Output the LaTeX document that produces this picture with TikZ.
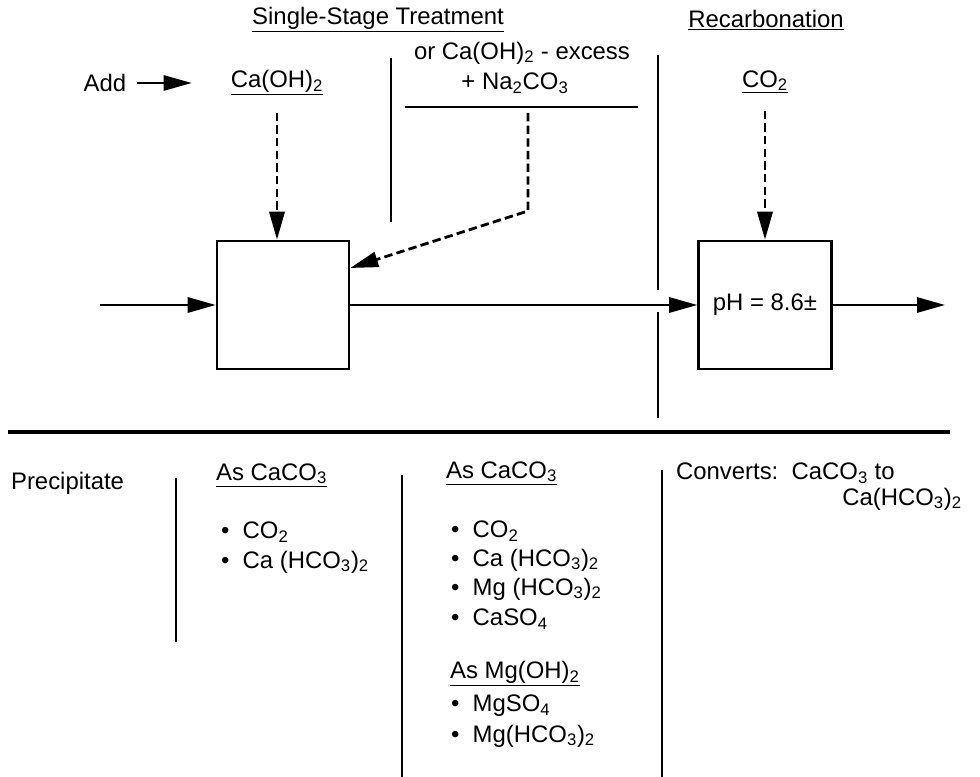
\documentclass[tikz,border=0pt]{standalone}
\usepackage{fontspec}
\setmainfont{Liberation Sans}
\usepackage{tikz}
\usetikzlibrary{positioning, arrows.meta, calc}
\newcommand{\chemsub}[1]{\textsubscript{#1}}

\begin{document}
\begin{tikzpicture}[
    every node/.style={font=\fontsize{17}{20}\selectfont, inner sep=2pt},
    unitbox/.style={draw, line width=1.8pt, minimum width=3.3cm, minimum height=3.2cm},
    flow/.style={line width=1.7pt, -{Triangle[length=7mm, width=3.8mm]}},
    feed/.style={line width=2pt, dash pattern=on 6pt off 3pt, -{Triangle[length=7mm, width=3.8mm]}},
    rule/.style={line width=1.8pt},
    item/.style={anchor=west}
]
\useasboundingbox (0,0) rectangle (24.5,19.425);

% === HEADINGS ===
\node (stage) at (9.45, 18.925) {\underline{Single-Stage Treatment}};
\node (recarb) at (19.15, 18.925) {\underline{Recarbonation}};

% === CHEMICALS ADDED ===
\node (add) at (2.625, 17.35) {Add};
\node (lime) at (6.925, 17.35) {\underline{Ca(OH)\chemsub{2}}};
\node (excess) at (13.05, 18.1) {or Ca(OH)\chemsub{2} - excess};
\node (soda) at (12.875, 17.35) {+ Na\chemsub{2}CO\chemsub{3}};
\node (co2) at (19.125, 17.375) {\underline{CO\chemsub{2}}};
\draw[rule] (10.125, 16.75) -- (15.95, 16.75);
\draw[flow, line width=1.4pt, shorten <=2mm, shorten >=9mm] (add.east) -- (lime.west);

% Column dividers (top)
\draw[rule] (9.775, 17.975) -- (9.775, 13.875);
\draw[rule] (16.45, 18.05) -- (16.45, 12.175);
\draw[rule] (16.45, 11.625) -- (16.45, 8.975);

% === UNITS ===
\node[unitbox] (reactor) at (7.075, 11.8) {};
\node[unitbox, minimum width=3.325cm] (recarbbox) at (19.125, 11.8) {pH = 8.6±};

\coordinate (inlet) at (2.5, 11.8);
\coordinate (outlet) at (23.625, 11.8);
\coordinate (sodatop) at (13.2, 16.6);
\coordinate (sodabend) at (13.2, 14.15);

\draw[flow] (inlet) -- (reactor);
\draw[flow] (reactor) -- (recarbbox);
\draw[flow] (recarbbox) -- (outlet);

% Dashed feeds
\draw[feed, shorten <=3.5mm] (lime.south) -- (lime.south |- reactor.north);
\draw[feed] (sodatop) -- (sodabend) -- ([yshift=9.25mm]reactor.east);
\draw[feed, shorten <=3.5mm] (co2.south) -- (recarbbox.north);

% === PRECIPITATES ===
\draw[line width=2.2pt] (0.2, 8.625) -- (23.75, 8.625);

\node[item] (precip) at (0.2, 7.35) {Precipitate};
\draw[rule] (4.4, 7.475) -- (4.4, 3.375);

\node[item] (headA) at (5.325, 7.55) {\underline{As CaCO\chemsub{3}}};
\node[item] (a1) at (5.45, 6.125) {\textbullet\ \ CO\chemsub{2}};
\node[item] (a2) at (5.45, 5.375) {\textbullet\ \ Ca (HCO\chemsub{3})\chemsub{2}};

\draw[rule] (10.05, 7.55) -- (10.05, 0);

\node[item] (headB) at (11.075, 7.6) {\underline{As CaCO\chemsub{3}}};
\node[item] (b1) at (11.2, 6.15) {\textbullet\ \ CO\chemsub{2}};
\node[item] (b2) at (11.2, 5.425) {\textbullet\ \ Ca (HCO\chemsub{3})\chemsub{2}};
\node[item] (b3) at (11.2, 4.7) {\textbullet\ \ Mg (HCO\chemsub{3})\chemsub{2}};
\node[item] (b4) at (11.2, 3.95) {\textbullet\ \ CaSO\chemsub{4}};

\node[item] (headC) at (11.175, 2.575) {\underline{As Mg(OH)\chemsub{2}}};
\node[item] (c1) at (11.2, 1.775) {\textbullet\ \ MgSO\chemsub{4}};
\node[item] (c2) at (11.2, 1.025) {\textbullet\ \ Mg(HCO\chemsub{3})\chemsub{2}};

\draw[rule] (16.55, 7.675) -- (16.55, 0);

\node[item] (conv) at (16.825, 7.6) {Converts:\ \ CaCO\chemsub{3} to};
\node[anchor=east] (convto) at (24.125, 6.95) {Ca(HCO\chemsub{3})\chemsub{2}};

\end{tikzpicture}
\end{document}
